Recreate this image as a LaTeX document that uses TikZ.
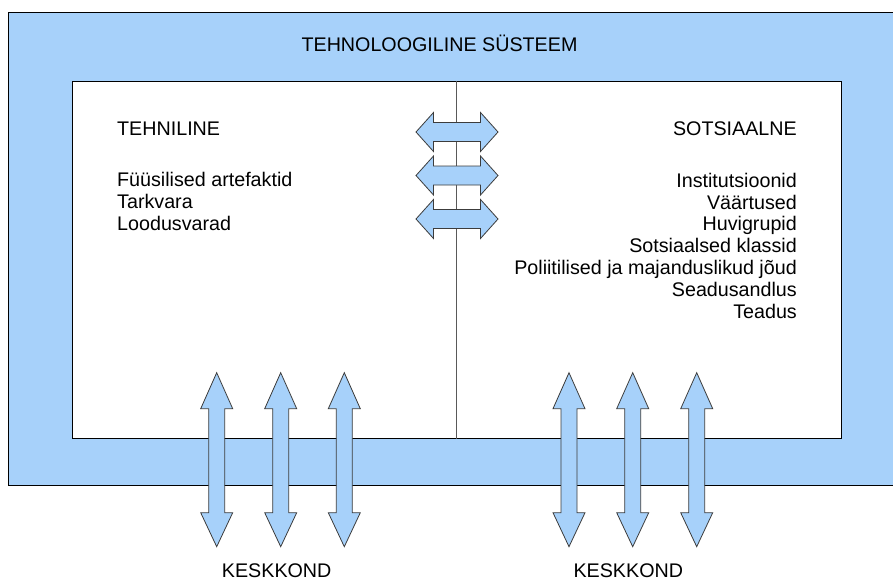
\documentclass[tikz,border=0pt]{standalone}
\usepackage{fontspec}
\setmainfont{Liberation Sans}
\usepackage{xcolor}
\definecolor{bandblue}{RGB}{167,209,250}
\definecolor{arrline}{RGB}{60,60,60}

\begin{document}
\begin{tikzpicture}[x=1pt,y=-1pt,font=\fontsize{19.7}{21.8}\selectfont]
\tikzstyle{band}=[draw, fill=bandblue, line width=1pt, minimum width=892, minimum height=473, inner sep=0]
\tikzstyle{inner}=[draw, fill=white, line width=1pt, minimum width=769.5, minimum height=357, inner sep=0]
\tikzstyle{arr}=[draw=arrline, fill=bandblue, line width=0.8pt, line join=miter]
\tikzstyle{lbl}=[inner sep=0]
\useasboundingbox (0,0) rectangle (893,581);

\node (outer) [band] at (454,248.5) {};
\node (sys) [inner] at (456.75,259.5) {};
\draw[gray!70!black, line width=0.9pt] (sys.north) -- (sys.south);

\node (title) [lbl, anchor=base] at (439.5,51) {TEHNOLOOGILINE SÜSTEEM};
\node (tech) [lbl, anchor=base west] at (117,135) {TEHNILINE};
\node (soc) [lbl, anchor=base east] at (797,135) {SOTSIAALNE};

\foreach \t [count=\i] in {Füüsilised artefaktid, Tarkvara, Loodusvarad}
  \node (tech\i) [lbl, anchor=base west] at (117,{186.7+21.9*(\i-1)}) {\t};
\foreach \t [count=\i] in {Institutsioonid, Väärtused, Huvigrupid, Sotsiaalsed klassid,
    Poliitilised ja majanduslikud jõud, Seadusandlus, Teadus}
  \node (soc\i) [lbl, anchor=base east] at (797,{187.3+21.8*(\i-1)}) {\t};

% arrows between the two parts
\foreach \cy in {132,175.5,219}
  \draw[arr] ({457-41},\cy) -- ({457-23.5},{\cy-19.5}) -- ({457-23.5},{\cy-9.5})
    -- ({457+23.5},{\cy-9.5}) -- ({457+23.5},{\cy-19.5}) -- ({457+41},\cy)
    -- ({457+23.5},{\cy+19.5}) -- ({457+23.5},{\cy+9.5}) -- ({457-23.5},{\cy+9.5})
    -- ({457-23.5},{\cy+19.5}) -- cycle;

% arrows to the environment
\foreach \cx in {216.7,280.7,344.3,569,632.7,696.7}
  \draw[arr] (\cx,{459.7-87}) -- ({\cx+16},{459.7-51}) -- ({\cx+8},{459.7-51})
    -- ({\cx+8},{459.7+53}) -- ({\cx+16},{459.7+53}) -- (\cx,{459.7+87})
    -- ({\cx-16},{459.7+53}) -- ({\cx-8},{459.7+53}) -- ({\cx-8},{459.7-51})
    -- ({\cx-16},{459.7-51}) -- cycle;

\node (envl) [lbl, anchor=base] at (276.7,577.5) {KESKKOND};
\node (envr) [lbl, anchor=base] at (628.3,577.5) {KESKKOND};
\end{tikzpicture}
\end{document}
